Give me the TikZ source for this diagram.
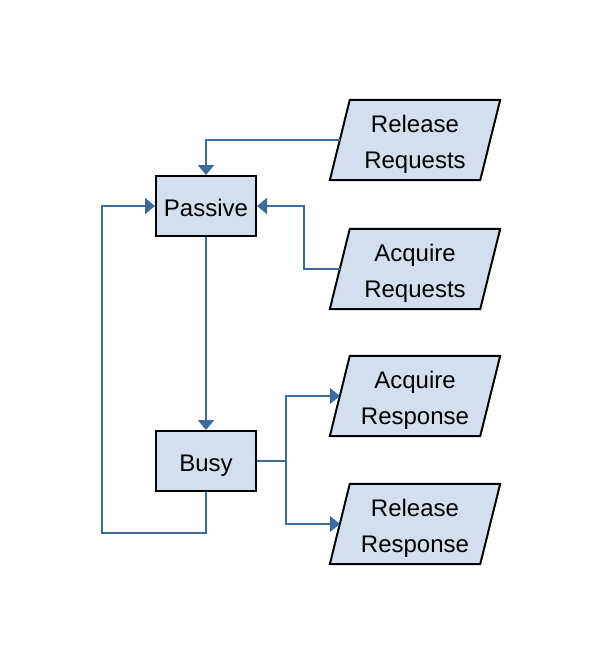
\documentclass[tikz,border=0pt]{standalone}
\usepackage{fontspec}
\setmainfont{Liberation Sans}
\usetikzlibrary{arrows.meta,backgrounds,calc}
\definecolor{boxfill}{HTML}{D4DFEE}
\definecolor{linecol}{HTML}{3B6A9E}
\begin{document}
\begin{tikzpicture}[x=1pt,y=-1pt,
 box/.style={draw=black,fill=boxfill,line width=2pt,minimum width=100pt,minimum height=60pt,inner sep=0pt},
 para/.style={minimum width=170pt,minimum height=80pt,inner sep=0pt},
 txt/.style={inner sep=0pt,align=center,font=\fontsize{24}{36}\selectfont},
 paraoutline/.style={draw=black,fill=boxfill,line width=2pt,line join=miter},
 conn/.style={draw=linecol,line width=2pt,-{Triangle[width=16pt,length=10pt]}},
 plain/.style={draw=linecol,line width=2pt}]
\useasboundingbox (0,0) rectangle (600,664);
\node[box] (passive) at (206,206) {};
\node[box] (busy) at (206,461) {};
\node[txt,anchor=base] (passivet) at ($(passive.center)+(0,10.5)$) {Passive};
\node[txt,anchor=base] (busyt) at ($(busy.center)+(0,10.5)$) {Busy};
\node[para] (rr) at (415,140) {};
\node[para] (ar) at (415,269) {};
\node[para] (aresp) at (415,396) {};
\node[para] (rresp) at (415,524) {};
\node[txt] (rrt) at ($(rr)+(0,4)$) {Release\\Requests};
\node[txt] (art) at ($(ar)+(0,4)$) {Acquire\\Requests};
\node[txt] (arespt) at ($(aresp)+(0,4)$) {Acquire\\Response};
\node[txt] (rrespt) at ($(rresp)+(0,4)$) {Release\\Response};
\begin{scope}[on background layer]
\foreach \n in {rr,ar,aresp,rresp}
  \draw[paraoutline] ($(\n.north west)+(20,0)$) -- (\n.north east) -- ($(\n.south east)+(-20,0)$) -- (\n.south west) -- cycle;
\end{scope}
\coordinate (loopc) at (102,533);
\coordinate (split) at (286,461);
\draw[conn] ($(rr.west)+(10,0)$) -| (passive.north);
\draw[conn] ($(ar.west)+(10,0)$) -- ++(-36,0) |- (passive.east);
\draw[conn] (passive.south) -- (busy.north);
\draw[conn] (busy.south) |- (loopc) |- (passive.west);
\draw[plain] (busy.east) -- (split);
\draw[conn] (split) |- ($(aresp.west)+(10,0)$);
\draw[conn] (split) |- ($(rresp.west)+(10,0)$);
\end{tikzpicture}
\end{document}
